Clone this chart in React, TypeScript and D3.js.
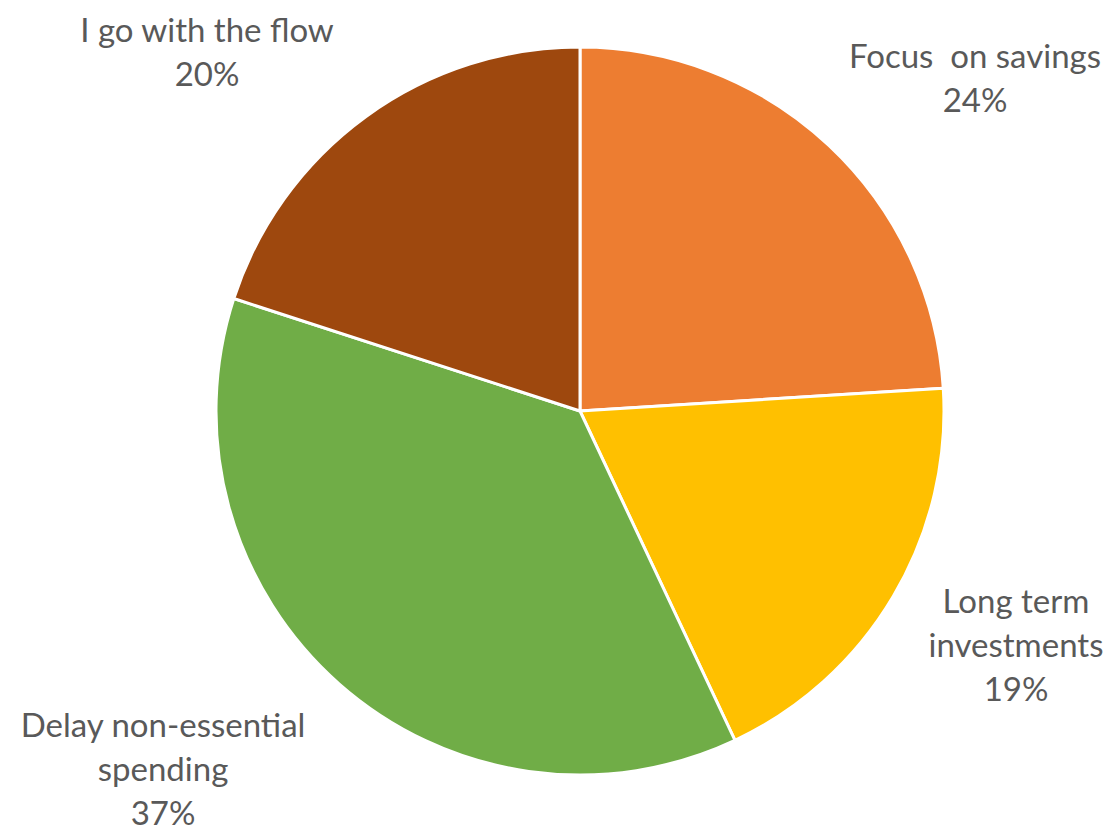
import React, { useEffect, useRef } from 'react';
import * as d3 from 'd3';

const categories = ['Focus  on savings', 'Long term investments', 'Delay non-essential spending', 'I go with the flow'];
const values = [24, 19, 37, 20];
const colors = ['#ED7D31', '#FFC000', '#70AD47', '#9E480E'];
// label lines as Excel wrapped them
const labelLines = [
  ['Focus  on savings', '24%'],
  ['Long term', 'investments', '19%'],
  ['Delay non-essential', 'spending', '37%'],
  ['I go with the flow', '20%'],
];

const W = 1117;
const H = 833;
const cx = 580;
const cy = 411;
const radius = 364;
// label centre x and first baseline y, relative to pie centre
const labelSpots = [
  [395, -343],
  [436, 202],
  [-417, 326],
  [-373, -369],
];
const lineGap = 44;

const App = () => {
  const ref = useRef(null);

  useEffect(() => {
    const svg = d3.select(ref.current);
    svg.selectAll('*').remove();

    const pie = d3.pie<number>().sort(null).value(d => d);
    const arcs = pie(values);
    const arc = d3.arc<d3.PieArcDatum<number>>().innerRadius(0).outerRadius(radius);

    const g = svg.append('g').attr('transform', `translate(${cx},${cy})`);

    g.selectAll('path')
      .data(arcs)
      .enter()
      .append('path')
      .attr('d', arc)
      .attr('fill', (d, i) => colors[i])
      .attr('stroke', '#ffffff')
      .attr('stroke-width', 3)
      .attr('stroke-linejoin', 'round');

    arcs.forEach((a, i) => {
      const [lx, ly] = labelSpots[i];
      const t = g.append('text')
        .attr('text-anchor', 'middle')
        .attr('font-family', 'Lato, "Noto Sans", sans-serif')
        .attr('font-size', 33)
        .attr('fill', '#595959')
        .style('white-space', 'pre');
      labelLines[i].forEach((line, j) => {
        t.append('tspan')
          .attr('x', lx)
          .attr('y', ly + j * lineGap)
          .text(line);
      });
    });
  }, []);

  return (
    <svg
      ref={ref}
      width={W}
      height={H}
      style={{ position: 'absolute', left: 0, top: 0, background: '#ffffff' }}
    ></svg>
  );
};

export default App;
